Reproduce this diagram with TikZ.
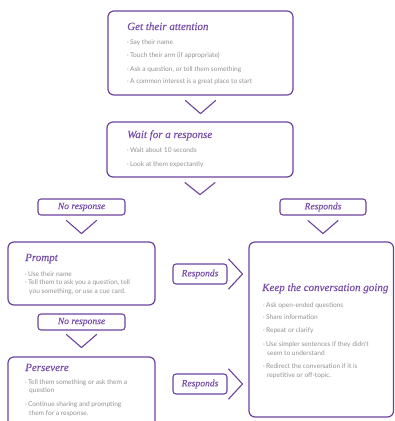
\documentclass[tikz,border=0pt]{standalone}
\usepackage{fontspec}
\newfontfamily\bodyfont{Lato}
\newfontfamily\titlefont[FakeBold=0.35]{Liberation Serif}
\usetikzlibrary{calc}
\definecolor{pur}{RGB}{108,66,158}
\definecolor{tpur}{RGB}{118,78,170}
\definecolor{txtgrey}{RGB}{145,145,145}
\tikzset{
 box/.style={draw=pur, line width=1.2pt, rounded corners=6pt, inner sep=0pt},
 tag/.style={draw=pur, line width=1.1pt, rounded corners=3pt, inner sep=0pt, minimum height=16pt,
   text=tpur, font=\titlefont\itshape\fontsize{9.6}{10}\selectfont},
 title/.style={anchor=base west, inner sep=0pt, text=tpur, font=\titlefont\itshape\fontsize{11}{12}\selectfont},
 item/.style={anchor=base west, inner sep=0pt, text=txtgrey, font=\bodyfont\fontsize{6.6}{8}\selectfont},
 chev/.style={draw=pur, line width=1.1pt, line join=round, line cap=round}
}
\newcommand{\bul}{·\hspace{1.2pt}}
\begin{document}
\begin{tikzpicture}[x=1pt,y=-1pt]
\useasboundingbox (0,0) rectangle (395,421);
\clip (0,0) rectangle (395,421);
% main boxes
\node[box, minimum width=185pt, minimum height=84pt] (b1) at (200.5,53) {};
\node[box, minimum width=186pt, minimum height=55pt] (b2) at (200,149.5) {};
\node[box, minimum width=147pt, minimum height=63pt] (bp) at (81.5,273.5) {};
\node[box, minimum width=147pt, minimum height=88pt] (bs) at (81.5,401) {};
\node[box, minimum width=144.5pt, minimum height=175pt] (bk) at (321.25,329.5) {};
% tags
\node[tag, minimum width=87pt] (n1) at (81.5,207) {No response};
\node[tag, minimum width=86pt] (r1) at (323,207) {Responds};
\node[tag, minimum width=54pt, minimum height=20pt] (r2) at (200,274) {Responds};
\node[tag, minimum width=87pt] (n2) at (81.5,322) {No response};
\node[tag, minimum width=54pt, minimum height=20pt] (r3) at (200,384) {Responds};
% chevrons
\draw[chev] ($(b1.south)+(-15,5)$) -- ($(b1.south)+(0,18)$) -- ($(b1.south)+(15,5)$);
\draw[chev] ($(b2.south)+(-15,5)$) -- ($(b2.south)+(0,17)$) -- ($(b2.south)+(15,5)$);
\draw[chev] ($(n1.south)+(-15,5)$) -- ($(n1.south)+(0,18)$) -- ($(n1.south)+(15,5)$);
\draw[chev] ($(r1.south)+(-15,5)$) -- ($(r1.south)+(0,18)$) -- ($(r1.south)+(15,5)$);
\draw[chev] ($(n2.south)+(-15,4)$) -- ($(n2.south)+(0,17)$) -- ($(n2.south)+(15,4)$);
\draw[chev] ($(r2.east)+(1,-15)$) -- ($(r2.east)+(15,0)$) -- ($(r2.east)+(1,15)$);
\draw[chev] ($(r3.east)+(1,-15)$) -- ($(r3.east)+(15,0)$) -- ($(r3.east)+(1,15)$);
% box 1 text
\node[title] (t1) at (127,30) {Get their attention};
\node[item] (t1a) at (127,44) {\bul Say their name};
\node[item] (t1b) at (127,57) {\bul Touch their arm (if appropriate)};
\node[item] (t1c) at (127,71) {\bul Ask a question, or tell them something};
\node[item] (t1d) at (127,83.5) {\bul A common interest is a great place to start};
% box 2 text
\node[title] (t2) at (127,138) {Wait for a response};
\node[item] (t2a) at (127,152) {\bul Wait about 10 seconds};
\node[item] (t2b) at (127,166) {\bul Look at them expectantly};
% prompt text
\node[title] (tp) at (25,261) {Prompt};
\node[item] (tpa) at (25,276) {\bul Use their name};
\node[item] (tpb) at (25,284.5) {\bul Tell them to ask you a question, tell};
\node[item] (tpc) at (29,293) {you something, or use a cue card.};
% keep text
\node[title] (tk) at (262,291) {Keep the conversation going};
\node[item] (tka) at (263,307) {\bul Ask open-ended questions};
\node[item] (tkb) at (263,319.5) {\bul Share information};
\node[item] (tkc) at (263,332.5) {\bul Repeat or clarify};
\node[item] (tkd) at (263,346) {\bul Use simpler sentences if they didn't};
\node[item] (tke) at (267,355) {seem to understand};
\node[item] (tkf) at (263,368) {\bul Redirect the conversation if it is};
\node[item] (tkg) at (267,377) {repetitive or off-topic.};
% persevere text
\node[title] (ts) at (25,371) {Persevere};
\node[item] (tsa) at (25,384) {\bul Tell them something or ask them a};
\node[item] (tsb) at (29,392.5) {question};
\node[item] (tsc) at (25,406) {\bul Continue sharing and prompting};
\node[item] (tsd) at (29,415) {them for a response.};
\end{tikzpicture}
\end{document}
